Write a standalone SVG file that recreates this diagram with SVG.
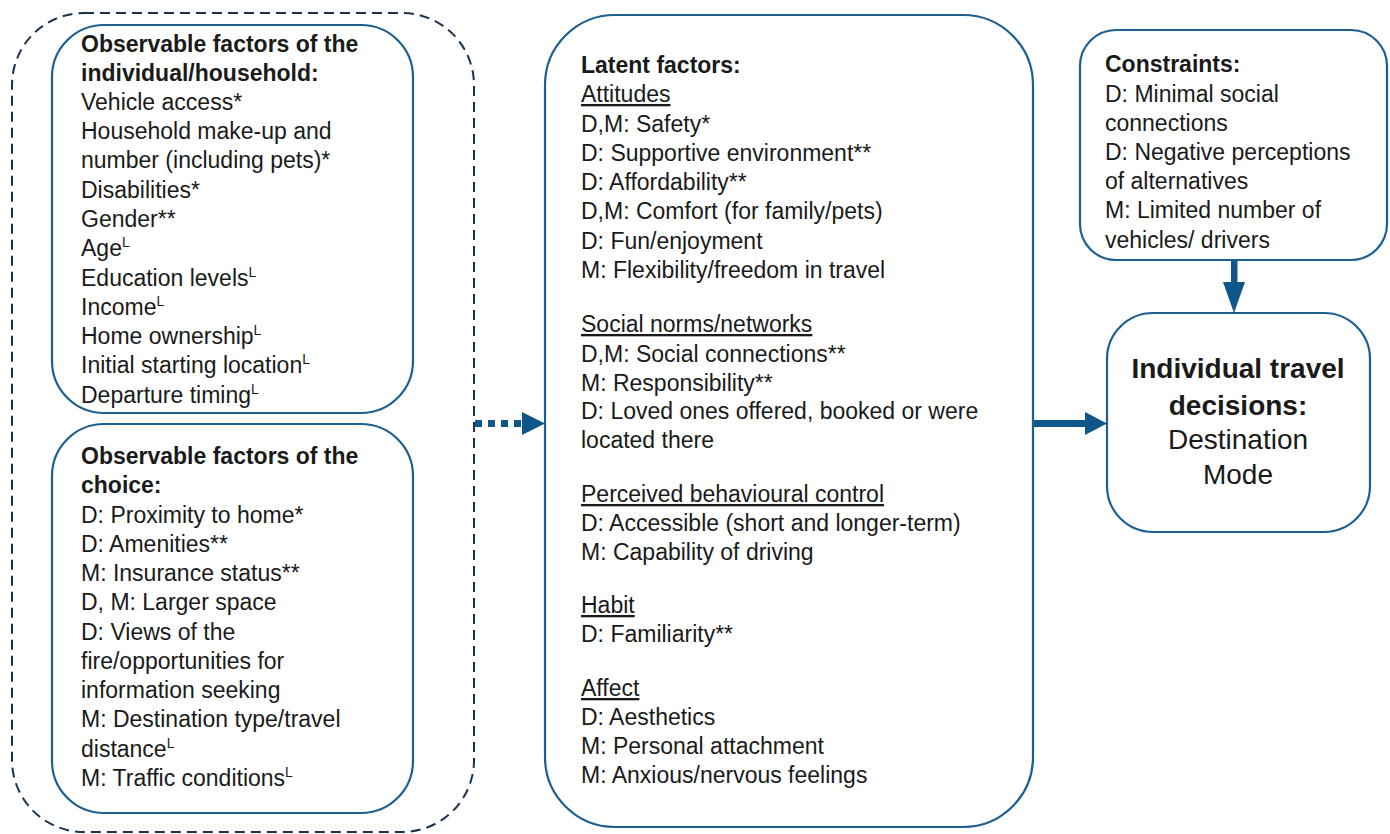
<svg xmlns="http://www.w3.org/2000/svg" width="1390" height="834" viewBox="0 0 1390 834">
<style>
.box{fill:#fff;stroke:#1d5f91;stroke-width:2.2}
.t{font-family:"Liberation Sans",Arial,sans-serif;font-size:23px;fill:#1a1a1a}
.b{font-weight:bold}
.u{text-decoration:underline}
.sup{font-size:14px}
.big{font-size:28px;text-anchor:middle}
.arr{fill:#0f578a}
</style>
<rect width="1390" height="834" fill="#fff"/>
<g id="outer-group">
<rect x="12" y="13" width="462" height="819" rx="72" ry="72" fill="none" stroke="#1a3350" stroke-width="2" stroke-dasharray="10 6"/>
</g>
<g id="node-household">
<rect class="box" x="52" y="25" width="361" height="388" rx="52" ry="52"/>
<text class="t b" x="81" y="52">Observable factors of the</text>
<text class="t b" x="81" y="81">individual/household:</text>
<text class="t" x="81" y="110">Vehicle access*</text>
<text class="t" x="81" y="139">Household make-up and</text>
<text class="t" x="81" y="168">number (including pets)*</text>
<text class="t" x="81" y="198">Disabilities*</text>
<text class="t" x="81" y="227">Gender**</text>
<text class="t" x="81" y="256">Age<tspan class="sup" dy="-9">L</tspan></text>
<text class="t" x="81" y="286">Education levels<tspan class="sup" dy="-9">L</tspan></text>
<text class="t" x="81" y="315">Income<tspan class="sup" dy="-9">L</tspan></text>
<text class="t" x="81" y="344">Home ownership<tspan class="sup" dy="-9">L</tspan></text>
<text class="t" x="81" y="373">Initial starting location<tspan class="sup" dy="-9">L</tspan></text>
<text class="t" x="81" y="403">Departure timing<tspan class="sup" dy="-9">L</tspan></text>
</g>
<g id="node-choice">
<rect class="box" x="52" y="424" width="361" height="389" rx="52" ry="52"/>
<text class="t b" x="81" y="464">Observable factors of the</text>
<text class="t b" x="81" y="493">choice:</text>
<text class="t" x="81" y="523">D: Proximity to home*</text>
<text class="t" x="81" y="552">D: Amenities**</text>
<text class="t" x="81" y="581">M: Insurance status**</text>
<text class="t" x="81" y="610">D, M: Larger space</text>
<text class="t" x="81" y="640">D: Views of the</text>
<text class="t" x="81" y="669">fire/opportunities for</text>
<text class="t" x="81" y="698">information seeking</text>
<text class="t" x="81" y="727">M: Destination type/travel</text>
<text class="t" x="81" y="757">distance<tspan class="sup" dy="-9">L</tspan></text>
<text class="t" x="81" y="786">M: Traffic conditions<tspan class="sup" dy="-9">L</tspan></text>
</g>
<g id="node-latent">
<rect class="box" x="545" y="15" width="488" height="812" rx="70" ry="70"/>
<text class="t b" x="581" y="73">Latent factors:</text>
<text class="t u" x="581" y="102">Attitudes</text>
<text class="t" x="581" y="132">D,M: Safety*</text>
<text class="t" x="581" y="161">D: Supportive environment**</text>
<text class="t" x="581" y="190">D: Affordability**</text>
<text class="t" x="581" y="219">D,M: Comfort (for family/pets)</text>
<text class="t" x="581" y="249">D: Fun/enjoyment</text>
<text class="t" x="581" y="278">M: Flexibility/freedom in travel</text>
<text class="t u" x="581" y="332">Social norms/networks</text>
<text class="t" x="581" y="362">D,M: Social connections**</text>
<text class="t" x="581" y="391">M: Responsibility**</text>
<text class="t" x="581" y="419">D: Loved ones offered, booked or were</text>
<text class="t" x="581" y="448">located there</text>
<text class="t u" x="581" y="502">Perceived behavioural control</text>
<text class="t" x="581" y="531">D: Accessible (short and longer-term)</text>
<text class="t" x="581" y="560">M: Capability of driving</text>
<text class="t u" x="581" y="613">Habit</text>
<text class="t" x="581" y="642">D: Familiarity**</text>
<text class="t u" x="581" y="696">Affect</text>
<text class="t" x="581" y="725">D: Aesthetics</text>
<text class="t" x="581" y="754">M: Personal attachment</text>
<text class="t" x="581" y="783">M: Anxious/nervous feelings</text>
</g>
<g id="node-constraints">
<rect class="box" x="1080" y="30" width="307" height="230" rx="36" ry="36"/>
<text class="t b" x="1105" y="72">Constraints:</text>
<text class="t" x="1105" y="102">D: Minimal social</text>
<text class="t" x="1105" y="131">connections</text>
<text class="t" x="1105" y="160">D: Negative perceptions</text>
<text class="t" x="1105" y="189">of alternatives</text>
<text class="t" x="1105" y="218">M: Limited number of</text>
<text class="t" x="1105" y="248">vehicles/ drivers</text>
</g>
<g id="node-decisions">
<rect class="box" x="1107" y="313" width="263" height="219" rx="46" ry="46"/>
<text class="t b big" x="1238" y="378">Individual travel</text>
<text class="t b big" x="1238" y="415">decisions:</text>
<text class="t big" x="1238" y="449">Destination</text>
<text class="t big" x="1238" y="484">Mode</text>
</g>
<g id="connectors">
<line x1="475" y1="423.5" x2="524" y2="423.5" stroke="#0f578a" stroke-width="7" stroke-dasharray="7 6"/>
<polygon class="arr" points="522,412 545,423.5 522,435"/>
<rect class="arr" x="1034" y="420" width="52" height="7"/>
<polygon class="arr" points="1085,412 1107,423.5 1085,435"/>
<rect class="arr" x="1231" y="261" width="6.5" height="22"/>
<polygon class="arr" points="1223,282 1245,282 1234,313"/>
</g>
</svg>
